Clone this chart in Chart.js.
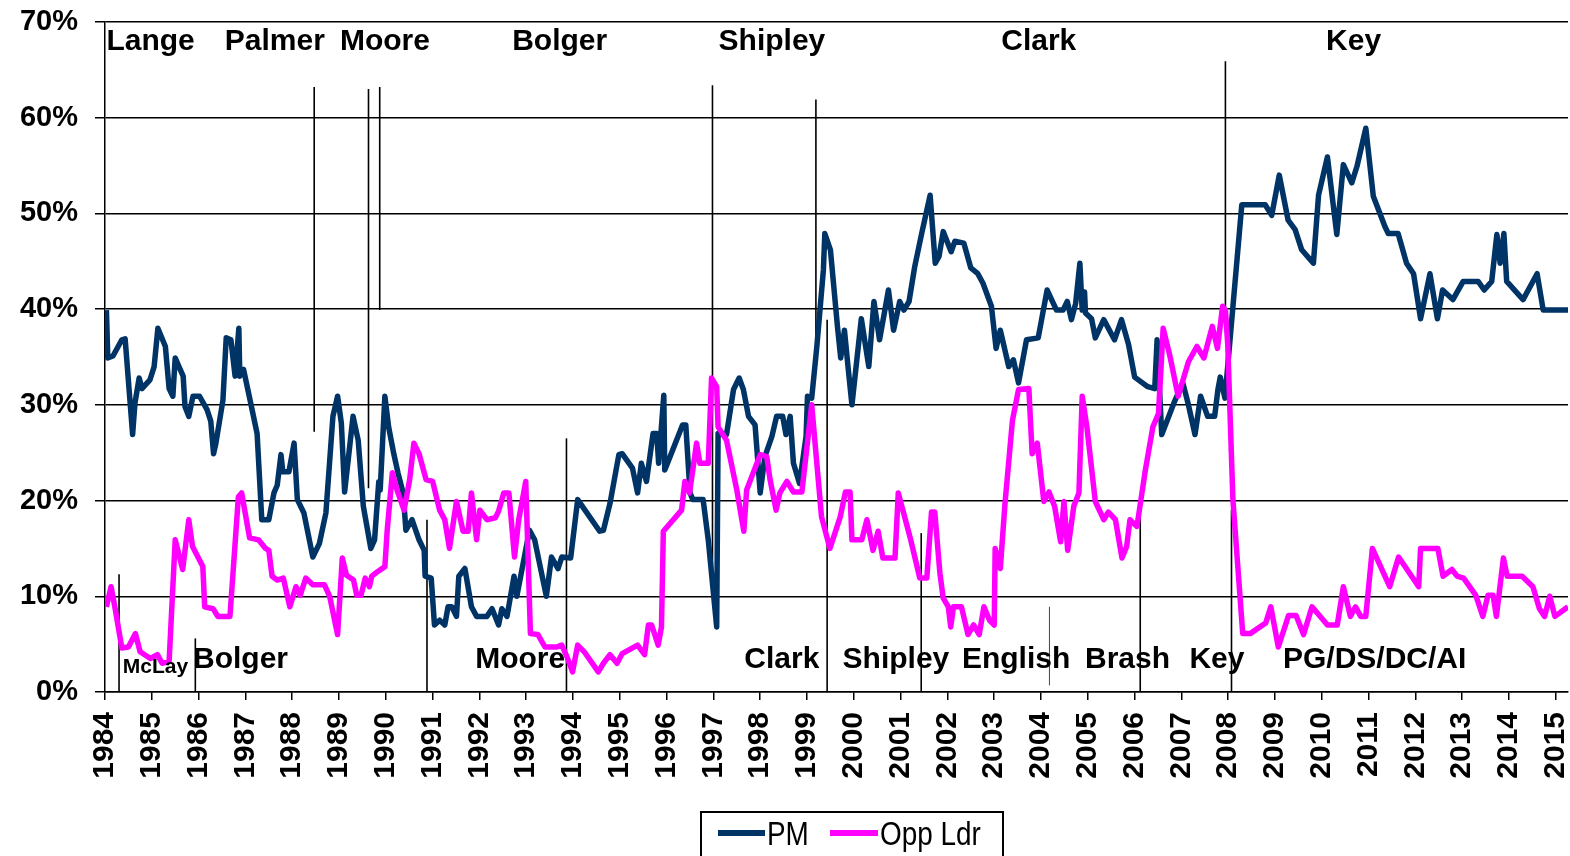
<!DOCTYPE html>
<html>
<head>
<meta charset="utf-8">
<title>PM vs Opposition Leader</title>
<script src="https://cdn.jsdelivr.net/npm/chart.js@4.4.1/dist/chart.umd.min.js"></script>
<style>
  body { margin: 0; background: #fff; }
  #wrap { position: relative; width: 1570px; height: 856px; overflow: hidden; }
  #chart { position: absolute; left: 0; top: 0; }
  .legend-box { position: absolute; left: 700px; top: 811px; width: 300px; height: 60px; border: 2px solid #000; }
  .swatch { position: absolute; top: 830px; height: 6px; }
  .leg-text { position: absolute; top: 816px; font: 34px/34px "Liberation Sans", Arial, sans-serif;
              transform: scaleX(0.82); transform-origin: left top; white-space: nowrap; color: #000; }
</style>
</head>
<body>
<div id="wrap">
  <canvas id="chart" width="1570" height="856"></canvas>
  <div class="legend-box"></div>
  <div class="swatch" style="left:718px;width:47px;background:#003366"></div>
  <div class="leg-text" style="left:767px">PM</div>
  <div class="swatch" style="left:830px;width:48px;background:#ff00ff"></div>
  <div class="leg-text" style="left:880px">Opp Ldr</div>
</div>
<script>
/* ==============================
   DATA
================================ */
const yearTicks = [1984, 1985, 1986, 1987, 1988, 1989, 1990, 1991, 1992, 1993, 1994, 1995,
    1996, 1997, 1998, 1999, 2000, 2001, 2002, 2003, 2004, 2005, 2006, 2007, 2008, 2009,
    2010, 2011, 2012, 2013, 2014, 2015];
const shareTicks = [0, 10, 20, 30, 40, 50, 60, 70];

// preferred PM rating, PM
const pmYears = [1984.03, 1984.06, 1984.17, 1984.36, 1984.43, 1984.59, 1984.64, 1984.73, 1984.79, 1984.96,
    1985.05, 1985.13, 1985.29, 1985.37, 1985.45, 1985.50, 1985.58, 1985.67, 1985.71, 1985.79, 1985.88,
    1986.02, 1986.18, 1986.26, 1986.32, 1986.37, 1986.52, 1986.59, 1986.69, 1986.78, 1986.86, 1986.88, 1986.96,
    1987.10, 1987.25, 1987.35, 1987.50, 1987.61, 1987.68, 1987.76, 1987.80, 1987.93,
    1988.04, 1988.11, 1988.25, 1988.44, 1988.58, 1988.72, 1988.87, 1988.97,
    1989.05, 1989.12, 1989.30, 1989.41, 1989.52, 1989.68, 1989.76, 1989.85, 1989.88, 1989.98,
    1990.06, 1990.17, 1990.26, 1990.37, 1990.43, 1990.56, 1990.71, 1990.82, 1990.84, 1990.97,
    1991.04, 1991.15, 1991.26, 1991.33, 1991.41, 1991.51, 1991.56, 1991.69, 1991.83, 1991.94,
    1992.16, 1992.27, 1992.41, 1992.48, 1992.59, 1992.74, 1992.80,
    1993.07, 1993.18, 1993.43, 1993.54, 1993.68, 1993.76, 1993.95,
    1994.10, 1994.57, 1994.65, 1994.79, 1994.98,
    1995.05, 1995.27, 1995.38, 1995.46, 1995.57, 1995.71, 1995.79, 1995.83, 1995.94, 1995.96,
    1996.05, 1996.34, 1996.41, 1996.50, 1996.56, 1996.78, 1996.89,
    1997.07, 1997.10, 1997.28, 1997.43, 1997.55, 1997.64, 1997.75, 1997.89,
    1998.00, 1998.10, 1998.25, 1998.35, 1998.48, 1998.55, 1998.64, 1998.71, 1998.84, 1998.98,
    1999.01, 1999.10, 1999.21, 1999.35, 1999.38, 1999.50, 1999.65, 1999.72, 1999.80, 1999.88, 1999.96,
    2000.16, 2000.32, 2000.43, 2000.55, 2000.74, 2000.85, 2000.98,
    2001.07, 2001.18, 2001.30, 2001.45, 2001.63, 2001.74, 2001.82, 2001.91,
    2002.08, 2002.16, 2002.35, 2002.50, 2002.65, 2002.76, 2002.94,
    2003.04, 2003.13, 2003.31, 2003.41, 2003.52, 2003.69, 2003.94,
    2004.13, 2004.33, 2004.47, 2004.56, 2004.65, 2004.74, 2004.83, 2004.88, 2004.93, 2004.95,
    2005.08, 2005.16, 2005.34, 2005.57, 2005.72, 2005.87,
    2006.00, 2006.28, 2006.43, 2006.48, 2006.58, 2006.84,
    2007.03, 2007.14, 2007.29, 2007.41, 2007.56, 2007.71, 2007.78, 2007.83, 2007.93,
    2008.29, 2008.79, 2008.93, 2009.09, 2009.28, 2009.43, 2009.57, 2009.82, 2009.93,
    2010.12, 2010.32, 2010.46, 2010.64, 2010.75, 2010.94,
    2011.10, 2011.35, 2011.42, 2011.63, 2011.81, 2011.96,
    2012.11, 2012.31, 2012.47, 2012.58, 2012.80,
    2013.02, 2013.34, 2013.47, 2013.63, 2013.74, 2013.81, 2013.89, 2013.95,
    2014.30, 2014.60, 2014.73, 2015.26];
const pmShare = [39.9, 34.9, 35.1, 36.8, 36.9, 26.9, 30.2, 32.8, 31.7, 32.6,
    34.0, 38.0, 36.1, 31.7, 30.9, 34.9, 34.0, 33.0, 29.8, 28.8, 30.9,
    30.9, 29.5, 28.3, 24.9, 26.0, 30.5, 37.0, 36.8, 33.0, 38.0, 33.0, 33.7,
    30.5, 27.0, 18.0, 18.0, 20.8, 21.6, 24.8, 23.0, 23.0,
    26.0, 20.1, 18.7, 14.1, 15.5, 18.7, 28.8, 30.9,
    28.1, 20.9, 28.8, 26.3, 19.4, 15.0, 15.9, 22.0, 21.1, 30.9,
    27.7, 24.9, 22.9, 20.8, 16.9, 18.0, 15.9, 14.8, 12.1, 11.9,
    7.0, 7.5, 7.0, 8.9, 8.9, 7.9, 12.1, 12.9, 8.9, 7.9,
    7.9, 8.7, 7.0, 8.7, 7.9, 12.1, 10.0,
    16.9, 15.9, 10.0, 14.1, 12.9, 14.1, 14.0,
    20.1, 16.8, 16.9, 19.7, 24.8,
    24.9, 23.4, 20.8, 23.9, 22.0, 27.0, 27.0, 23.9, 31.0, 23.2,
    24.3, 27.9, 27.9, 20.8, 20.1, 20.1, 15.9,
    6.8, 27.0, 26.9, 31.6, 32.8, 31.6, 28.8, 27.9,
    20.8, 24.6, 26.7, 28.8, 28.8, 26.9, 28.8, 23.9, 21.8, 26.7,
    30.9, 30.7, 36.1, 44.1, 47.9, 46.2, 38.2, 34.9, 37.8, 33.8, 30.0,
    39.0, 34.0, 40.8, 36.8, 42.0, 37.8, 40.8,
    39.9, 40.8, 44.4, 47.9, 51.9, 44.8, 45.5, 48.1,
    46.0, 47.1, 46.9, 44.3, 43.7, 42.7, 40.3,
    35.9, 37.8, 34.0, 34.7, 32.3, 36.8, 37.0,
    42.0, 39.9, 39.9, 40.8, 38.9, 40.6, 44.8, 39.9, 41.8, 39.6,
    39.0, 37.0, 38.9, 36.8, 38.9, 36.3,
    32.9, 31.9, 31.7, 36.8, 26.9, 30.2,
    32.3, 30.2, 26.9, 30.9, 28.8, 28.8, 31.6, 32.9, 30.7,
    50.9, 50.9, 49.8, 54.0, 49.3, 48.3, 46.2, 44.8, 51.9,
    55.9, 47.8, 55.1, 53.2, 54.9, 58.9,
    51.8, 48.6, 47.9, 47.9, 44.8, 43.7,
    39.0, 43.7, 39.0, 42.0, 41.0,
    42.9, 42.9, 42.0, 42.9, 47.8, 44.8, 47.9, 42.9,
    41.0, 43.7, 39.9, 39.9];

// preferred PM rating, Leader of the Opposition
const oppYears = [1984.03, 1984.13, 1984.21, 1984.36, 1984.50, 1984.65, 1984.75, 1984.97,
    1985.12, 1985.22, 1985.37, 1985.50, 1985.66, 1985.79, 1985.87,
    1986.09, 1986.13, 1986.31, 1986.41, 1986.67, 1986.85, 1986.92,
    1987.09, 1987.28, 1987.43, 1987.50, 1987.57, 1987.68, 1987.81, 1987.95,
    1988.08, 1988.17, 1988.29, 1988.44, 1988.69, 1988.80, 1988.97,
    1989.07, 1989.16, 1989.31, 1989.38, 1989.47, 1989.56, 1989.65, 1989.70, 1989.83, 1989.98,
    1990.03, 1990.14, 1990.24, 1990.39, 1990.51, 1990.60, 1990.71, 1990.86,
    1991.00, 1991.15, 1991.26, 1991.36, 1991.51, 1991.65, 1991.76, 1991.83, 1991.94,
    1992.01, 1992.16, 1992.34, 1992.41, 1992.52, 1992.63, 1992.75, 1992.84, 1992.99,
    1993.09, 1993.25, 1993.40, 1993.65, 1993.76, 1993.87, 1993.99,
    1994.10, 1994.24, 1994.54, 1994.65, 1994.79, 1994.94,
    1995.05, 1995.38, 1995.53, 1995.61, 1995.68, 1995.82, 1995.89, 1995.93,
    1996.32, 1996.39, 1996.49, 1996.64, 1996.71, 1996.89, 1996.96,
    1997.07, 1997.10, 1997.28, 1997.50, 1997.65, 1997.71,
    1998.00, 1998.14, 1998.21, 1998.34, 1998.42, 1998.57, 1998.71, 1998.89,
    1999.10, 1999.31, 1999.49, 1999.71, 1999.82, 1999.92, 1999.96,
    2000.17, 2000.28, 2000.41, 2000.52, 2000.62, 2000.88, 2000.95,
    2001.20, 2001.41, 2001.56, 2001.66, 2001.73, 2001.84, 2001.91,
    2002.02, 2002.07, 2002.13, 2002.30, 2002.44, 2002.56, 2002.68, 2002.78, 2002.90,
    2003.00, 2003.02, 2003.13, 2003.23, 2003.39, 2003.52, 2003.74, 2003.81, 2003.92,
    2004.06, 2004.17, 2004.29, 2004.42, 2004.49, 2004.57, 2004.70, 2004.81, 2004.88, 2004.98,
    2005.16, 2005.34, 2005.44, 2005.59, 2005.73, 2005.83, 2005.90,
    2006.05, 2006.23, 2006.39, 2006.51, 2006.61, 2006.75, 2006.93,
    2007.15, 2007.33, 2007.48, 2007.66, 2007.77, 2007.88, 2007.94, 2007.99,
    2008.10, 2008.31, 2008.47, 2008.80, 2008.91,
    2009.07, 2009.29, 2009.45, 2009.61, 2009.79,
    2010.12, 2010.33, 2010.46, 2010.61, 2010.72, 2010.83, 2010.94,
    2011.08, 2011.45, 2011.64,
    2012.07, 2012.11, 2012.48, 2012.59, 2012.78, 2012.89,
    2013.03, 2013.29, 2013.44, 2013.55, 2013.66, 2013.73, 2013.88, 2013.96,
    2014.28, 2014.51, 2014.65, 2014.76, 2014.87, 2014.98, 2015.26];
const oppShare = [8.9, 11.0, 8.9, 4.6, 4.7, 6.1, 4.2, 3.5,
    3.9, 3.0, 3.2, 15.9, 12.8, 18.0, 15.2,
    13.1, 8.9, 8.7, 7.9, 7.9, 20.4, 20.8,
    16.1, 15.9, 15.0, 14.8, 12.1, 11.7, 11.9, 8.9,
    11.0, 10.1, 11.9, 11.2, 11.2, 10.0, 6.0,
    14.0, 12.2, 11.7, 10.1, 10.1, 11.9, 11.0, 12.1, 12.6, 13.1,
    16.9, 22.9, 21.1, 19.0, 22.2, 26.0, 24.9, 22.2,
    22.0, 19.0, 18.0, 15.0, 19.9, 16.8, 16.8, 20.8, 15.9,
    19.0, 18.0, 18.2, 18.9, 20.8, 20.8, 14.1, 18.0, 22.0,
    6.1, 6.0, 4.7, 4.7, 4.9, 3.7, 2.1,
    4.9, 4.2, 2.1, 3.0, 3.9, 3.0,
    4.0, 4.9, 3.9, 7.0, 7.0, 4.9, 6.8, 16.8,
    19.0, 22.0, 20.8, 26.0, 23.9, 23.9, 32.8,
    31.9, 27.7, 26.3, 21.1, 16.8, 21.1,
    24.8, 24.6, 22.2, 19.0, 20.8, 22.0, 20.9, 20.9,
    30.0, 18.3, 15.0, 18.3, 20.9, 20.9, 15.9,
    15.9, 18.0, 14.8, 16.8, 14.0, 14.0, 20.8,
    16.2, 11.9, 11.9, 18.8, 18.8, 12.4, 9.8,
    8.9, 6.8, 8.9, 8.9, 6.0, 7.0, 6.0, 8.9, 7.5,
    7.0, 15.0, 12.9, 19.7, 28.4, 31.6, 31.7, 24.9, 26.0,
    19.9, 20.9, 19.4, 15.7, 19.9, 14.8, 19.4, 20.8, 30.9, 27.7,
    19.9, 18.0, 18.8, 18.0, 14.0, 15.2, 18.0,
    17.3, 23.2, 27.7, 29.1, 38.0, 35.2, 30.9,
    34.5, 36.1, 34.9, 38.2, 35.9, 40.3, 39.9, 36.3,
    20.1, 6.1, 6.1, 7.2, 8.9,
    4.7, 8.0, 8.0, 6.0, 8.9,
    7.0, 7.0, 11.0, 7.9, 8.9, 7.9, 7.9,
    15.0, 11.0, 14.1,
    11.0, 15.0, 15.0, 12.1, 12.8, 12.1,
    11.9, 10.1, 7.9, 10.1, 10.1, 7.9, 14.0, 12.1,
    12.1, 11.0, 8.7, 7.9, 10.0, 7.9, 8.9];

// leadership changes: PM (lines hang from the top), opposition (lines rise from the axis)
const pmChangeYears = [1988.47, 1989.63, 1989.87, 1996.98, 1999.19, 2007.94];
const pmChangeTop = [63.2, 63.0, 63.2, 63.4, 61.9, 65.9];
const pmChangeBottom = [27.2, 21.3, 39.9, 12.7, 36.3, 38.0];
const oppChangeYears = [1984.30, 1985.93, 1990.88, 1993.86, 1999.43, 2001.44, 2004.18, 2006.12, 2008.07];
const oppChangeTop = [12.3, 5.6, 18.0, 26.5, 38.9, 16.6, 8.9, 20.4, 19.0];
const oppChangeBottom = [0, 0, 0, 0, 0, 0, 0.7, 0, 0];

const pmNames = ["Lange", "Palmer", "Moore", "Bolger", "Shipley", "Clark", "Key"];
const pmNameYears = [1984.03, 1986.56, 1989.02, 1992.70, 1997.11, 2003.15, 2010.09];
const oppNames = ["McLay", "Bolger", "Moore", "Clark", "Shipley", "English", "Brash", "Key", "PG/DS/DC/AI"];
const oppNameYears = [1984.38, 1985.88, 1991.91, 1997.66, 1999.76, 2002.31, 2004.94, 2007.17, 2009.17];

/* ==============================
   NAME LABELS
================================ */
const TOP_NAME_Y = 67.1;
const BOTTOM_NAME_Y = 2.5;
const SMALL_NAME_Y = 1.95;

const leaderLabels = {
    id: "leaderLabels",
    afterDatasetsDraw(chart) {
        const { ctx, scales: { x, y } } = chart;
        ctx.save();
        ctx.fillStyle = "#000";
        ctx.textAlign = "left";
        ctx.textBaseline = "alphabetic";
        ctx.font = 'bold 30px "Liberation Sans", Arial, sans-serif';
        pmNames.forEach((name, i) => {
            ctx.fillText(name, x.getPixelForValue(pmNameYears[i]), y.getPixelForValue(TOP_NAME_Y));
        });
        oppNames.forEach((name, i) => {
            const small = name === "McLay";
            ctx.font = small ? 'bold 21px "Liberation Sans", Arial, sans-serif'
                             : 'bold 30px "Liberation Sans", Arial, sans-serif';
            ctx.fillText(name, x.getPixelForValue(oppNameYears[i]),
                y.getPixelForValue(small ? SMALL_NAME_Y : BOTTOM_NAME_Y));
        });
        ctx.restore();
    }
};

/* ==============================
   DATASETS
================================ */
const zip = (xs, ys) => xs.map((v, i) => ({ x: v, y: ys[i] }));

const changeLines = [];
pmChangeYears.forEach((yr, i) => {
    changeLines.push({
        data: [{ x: yr, y: pmChangeTop[i] }, { x: yr, y: pmChangeBottom[i] }],
        borderColor: "#000", borderWidth: 1.6, pointRadius: 0, order: 3
    });
});
oppChangeYears.forEach((yr, i) => {
    changeLines.push({
        data: [{ x: yr, y: oppChangeBottom[i] }, { x: yr, y: oppChangeTop[i] }],
        borderColor: oppChangeBottom[i] > 0 ? "#444" : "#000",
        borderWidth: oppChangeBottom[i] > 0 ? 1 : 1.6,
        pointRadius: 0, order: 3
    });
});

const tickFont = { family: '"Liberation Sans", Arial, sans-serif', weight: "bold" };

new Chart(document.getElementById("chart"), {
    type: "line",
    data: {
        datasets: [
            {
                label: "PM",
                data: zip(pmYears, pmShare),
                borderColor: "#003366",
                borderWidth: 5.5,
                borderJoinStyle: "round",
                pointRadius: 0,
                tension: 0,
                order: 2
            },
            {
                label: "Opp Ldr",
                data: zip(oppYears, oppShare),
                borderColor: "#ff00ff",
                borderWidth: 5.5,
                borderJoinStyle: "round",
                pointRadius: 0,
                tension: 0,
                order: 1
            },
            ...changeLines
        ]
    },
    options: {
        responsive: false,
        animation: false,
        devicePixelRatio: 1,
        layout: { padding: { top: 22, right: 2, left: 0, bottom: 0 } },
        plugins: {
            legend: { display: false },
            tooltip: { enabled: false }
        },
        scales: {
            x: {
                type: "linear",
                min: 1984,
                max: 2015.26,
                afterBuildTicks: s => { s.ticks = yearTicks.map(v => ({ value: v })); },
                afterFit: s => {
                    s.height = 164;
                    s.paddingLeft = 0;
                    s.paddingRight = 0;
                },
                ticks: {
                    autoSkip: false,
                    minRotation: 90,
                    maxRotation: 90,
                    padding: 12,
                    color: "#000",
                    font: { ...tickFont, size: 30 },
                    callback: v => String(v)
                },
                grid: { drawOnChartArea: false, drawTicks: true, tickLength: 8, color: "#000", lineWidth: 1.5 },
                border: { color: "#000", width: 1.5 }
            },
            y: {
                min: 0,
                max: 70,
                afterBuildTicks: s => { s.ticks = shareTicks.map(v => ({ value: v })); },
                afterFit: s => {
                    s.width = 105;
                    s.paddingTop = 0;
                    s.paddingBottom = 0;
                },
                ticks: {
                    padding: 17,
                    color: "#000",
                    font: { ...tickFont, size: 29 },
                    callback: v => v + "%"
                },
                grid: { color: "#000", lineWidth: 1.5, tickLength: 10, drawTicks: true },
                border: { color: "#000", width: 1.5 }
            }
        }
    },
    plugins: [leaderLabels]
});
</script>
</body>
</html>
